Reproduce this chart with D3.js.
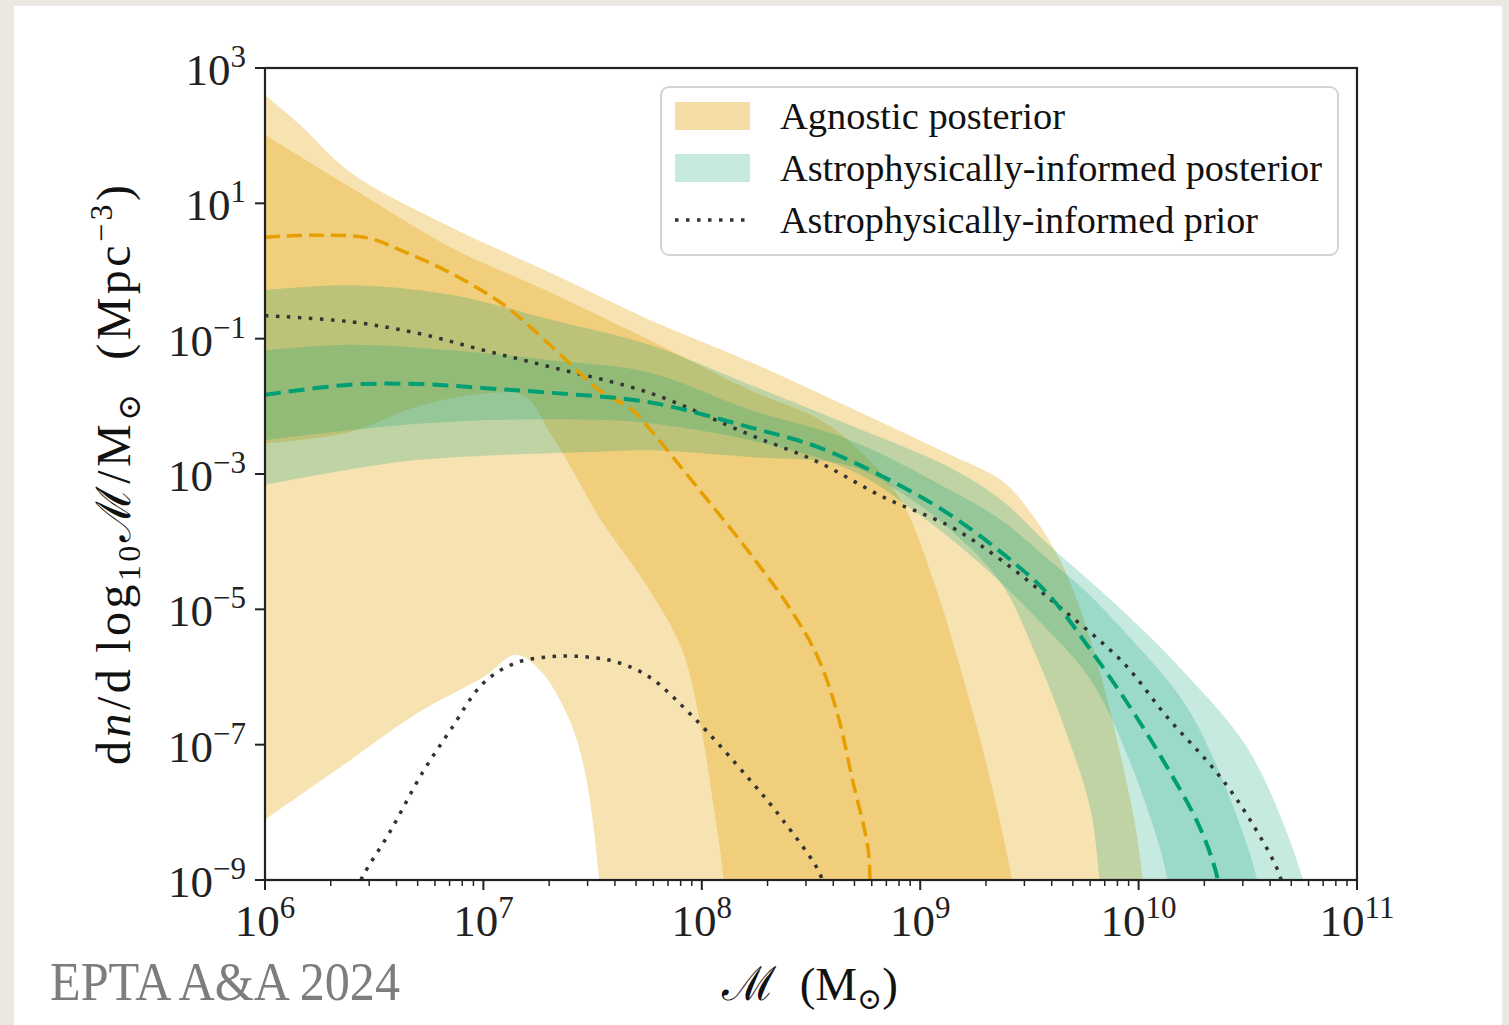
<!DOCTYPE html>
<html><head><meta charset="utf-8">
<script src="https://cdn.jsdelivr.net/npm/d3@7/dist/d3.min.js"></script>
<style>
html,body{margin:0;padding:0;background:#ebe8e2;}
svg{display:block;}
</style></head>
<body>
<svg id="chart" width="1509" height="1025"></svg>
<script>
// ---- data: [log10 mass (M_sun), log10 density (Mpc^-3)] ----
const massTickExponents = [6, 7, 8, 9, 10, 11];
const densityTickExponents = [3, 1, -1, -3, -5, -7, -9];
const legendLabels = ["Agnostic posterior", "Astrophysically-informed posterior", "Astrophysically-informed prior"];

const agnosticOuterUpper = [[6.00,2.60],[6.16,2.16],[6.39,1.46],[6.85,0.65],[7.31,-0.03],[7.76,-0.72],[8.22,-1.34],[8.68,-2.02],[9.14,-2.72],[9.37,-3.09],[9.48,-3.46],[9.64,-4.27],[9.78,-5.45],[9.89,-6.78],[9.98,-8.11],[10.02,-9.00],[10.03,-9.30]];
const agnosticOuterLower = [[6.00,-8.11],[6.39,-7.23],[6.70,-6.53],[7.00,-6.00],[7.15,-5.67],[7.27,-5.94],[7.40,-6.68],[7.46,-7.33],[7.50,-8.11],[7.53,-9.00],[7.54,-9.30]];
const agnosticInnerUpper = [[6.00,2.01],[6.39,1.24],[6.85,0.35],[7.31,-0.32],[7.76,-1.02],[8.22,-1.76],[8.54,-2.20],[8.72,-2.65],[8.91,-3.38],[9.06,-4.57],[9.20,-6.05],[9.31,-7.37],[9.42,-9.00],[9.43,-9.30]];
const agnosticInnerLower = [[6.00,-2.55],[6.39,-2.38],[6.70,-2.00],[6.98,-1.82],[7.19,-1.85],[7.31,-2.42],[7.42,-3.01],[7.53,-3.64],[7.76,-4.71],[7.91,-5.60],[7.99,-6.64],[8.05,-7.82],[8.10,-9.00],[8.10,-9.30]];
const agnosticMedian = [[6.00,0.50],[6.24,0.53],[6.47,0.49],[6.62,0.31],[6.85,-0.03],[7.08,-0.47],[7.23,-0.87],[7.38,-1.32],[7.53,-1.76],[7.68,-2.05],[7.76,-2.33],[7.99,-3.24],[8.22,-4.17],[8.40,-4.97],[8.53,-5.70],[8.62,-6.53],[8.69,-7.52],[8.76,-8.51],[8.77,-9.00],[8.77,-9.30]];

const astroOuterUpper = [[6.00,-0.28],[6.39,-0.21],[6.85,-0.35],[7.31,-0.72],[7.76,-1.09],[8.22,-1.68],[8.68,-2.28],[9.14,-2.91],[9.37,-3.38],[9.59,-4.05],[9.90,-4.94],[10.20,-5.90],[10.51,-7.11],[10.75,-8.96],[10.77,-9.30]];
const astroOuterLower = [[6.00,-3.16],[6.62,-2.82],[7.08,-2.72],[7.53,-2.67],[7.76,-2.65],[8.22,-2.75],[8.68,-2.88],[8.91,-3.27],[9.14,-3.83],[9.37,-4.61],[9.52,-5.60],[9.67,-6.83],[9.78,-7.96],[9.82,-8.96],[9.83,-9.30]];
const astroInnerUpper = [[6.00,-1.17],[6.39,-1.09],[6.85,-1.17],[7.31,-1.32],[7.76,-1.50],[8.22,-2.05],[8.68,-2.50],[9.14,-3.24],[9.37,-3.68],[9.59,-4.27],[9.75,-4.71],[9.97,-5.45],[10.20,-6.34],[10.36,-7.33],[10.54,-8.96],[10.55,-9.30]];
const astroInnerLower = [[6.00,-2.50],[6.62,-2.28],[7.08,-2.20],[7.53,-2.20],[7.76,-2.25],[8.22,-2.50],[8.68,-2.94],[9.00,-3.61],[9.29,-4.37],[9.55,-5.19],[9.78,-6.04],[9.97,-7.33],[10.13,-8.96],[10.13,-9.30]];
const astroMedian = [[6.00,-1.83],[6.39,-1.68],[6.70,-1.67],[7.00,-1.73],[7.31,-1.80],[7.76,-1.94],[8.22,-2.31],[8.53,-2.60],[8.83,-3.04],[9.14,-3.61],[9.44,-4.34],[9.59,-4.79],[9.78,-5.60],[9.97,-6.49],[10.13,-7.33],[10.28,-8.22],[10.36,-8.96],[10.37,-9.30]];

const priorUpper = [[6.00,-0.66],[6.39,-0.75],[6.70,-0.92],[7.00,-1.17],[7.31,-1.42],[7.76,-1.80],[8.22,-2.42],[8.53,-2.82],[8.83,-3.34],[9.14,-3.78],[9.37,-4.27],[9.64,-4.97],[9.93,-5.79],[10.13,-6.59],[10.36,-7.42],[10.51,-8.11],[10.65,-8.97],[10.66,-9.30]];
const priorLower = [[6.42,-9.15],[6.45,-8.93],[6.57,-8.30],[6.72,-7.42],[6.85,-6.78],[7.00,-6.09],[7.15,-5.79],[7.31,-5.70],[7.46,-5.70],[7.61,-5.78],[7.76,-6.00],[7.96,-6.59],[8.22,-7.52],[8.37,-8.11],[8.54,-8.90],[8.56,-9.15]];

// ---- styles ----
const orange = "#E69F00", teal = "#009E73";
const svg = d3.select("#chart");
const L = 265, R = 1357, T = 68, B = 880;
const x = d3.scaleLog().domain([1e6, 1e11]).range([L, R]);
const y = d3.scaleLog().domain([1e-9, 1e3]).range([B, T]);
const serif = "'Liberation Serif','DejaVu Serif',serif";

// card background
svg.append("rect").attr("x", 14).attr("y", 6).attr("width", 1488).attr("height", 1040).attr("fill", "#ffffff");

const defs = svg.append("defs");
defs.append("clipPath").attr("id", "plotclip").append("rect")
  .attr("x", L).attr("y", T).attr("width", R - L).attr("height", B - T);

const line = d3.line().x(d => x(Math.pow(10, d[0]))).y(d => y(Math.pow(10, d[1])))
  .curve(d3.curveCatmullRom.alpha(0.5));
function band(upper, lower) {
  const a = line(upper);
  const b = line(lower.slice().reverse());
  return a + "L" + b.slice(1) + "Z";
}

const plot = svg.append("g").attr("clip-path", "url(#plotclip)");
plot.append("path").attr("d", band(agnosticOuterUpper, agnosticOuterLower)).attr("fill", orange).attr("fill-opacity", 0.3);
plot.append("path").attr("d", band(agnosticInnerUpper, agnosticInnerLower)).attr("fill", orange).attr("fill-opacity", 0.3);
plot.append("path").attr("d", band(astroOuterUpper, astroOuterLower)).attr("fill", teal).attr("fill-opacity", 0.22);
plot.append("path").attr("d", band(astroInnerUpper, astroInnerLower)).attr("fill", teal).attr("fill-opacity", 0.22);

plot.append("path").attr("d", line(priorUpper)).attr("fill", "none").attr("stroke", "#333")
  .attr("stroke-width", 3.5).attr("stroke-dasharray", "3.5 7.5");
plot.append("path").attr("d", line(priorLower)).attr("fill", "none").attr("stroke", "#333")
  .attr("stroke-width", 3.5).attr("stroke-dasharray", "3.5 7.5");
plot.append("path").attr("d", line(agnosticMedian)).attr("fill", "none").attr("stroke", orange)
  .attr("stroke-width", 3.5).attr("stroke-dasharray", "15 7");
plot.append("path").attr("d", line(astroMedian)).attr("fill", "none").attr("stroke", teal)
  .attr("stroke-width", 4).attr("stroke-dasharray", "16 8");

// ---- axes ----
const ax = svg.append("g");
const xTicks = massTickExponents.map(e => Math.pow(10, e));
const xMinor = [];
for (let e = 6; e < 11; e++) for (let k = 2; k <= 9; k++) xMinor.push(k * Math.pow(10, e));
ax.selectAll(".xminor").data(xMinor).join("line")
  .attr("x1", d => x(d)).attr("x2", d => x(d)).attr("y1", B).attr("y2", B + 6)
  .attr("stroke", "#222").attr("stroke-width", 1.5);
ax.selectAll(".xmajor").data(xTicks).join("line")
  .attr("x1", d => x(d)).attr("x2", d => x(d)).attr("y1", B).attr("y2", B + 10)
  .attr("stroke", "#222").attr("stroke-width", 2);
const yTicks = densityTickExponents.map(e => Math.pow(10, e));
ax.selectAll(".ymajor").data(yTicks).join("line")
  .attr("x1", L - 10).attr("x2", L).attr("y1", d => y(d)).attr("y2", d => y(d))
  .attr("stroke", "#222").attr("stroke-width", 2);
svg.append("rect").attr("x", L).attr("y", T).attr("width", R - L).attr("height", B - T)
  .attr("fill", "none").attr("stroke", "#222").attr("stroke-width", 2.2);

function fmtExp(e) { return e < 0 ? "\u2212" + Math.abs(e) : String(e); }

massTickExponents.forEach(e => {
  const t = svg.append("text").attr("x", x(Math.pow(10, e))).attr("y", 936)
    .attr("text-anchor", "middle").attr("font-family", serif).attr("font-size", 45).attr("fill", "#222");
  t.append("tspan").text("10");
  t.append("tspan").attr("dy", -18).attr("font-size", 31).text(fmtExp(e));
});
densityTickExponents.forEach(e => {
  const t = svg.append("text").attr("x", 246).attr("y", y(Math.pow(10, e)) + 17)
    .attr("text-anchor", "end").attr("font-family", serif).attr("font-size", 45).attr("fill", "#222");
  t.append("tspan").text("10");
  t.append("tspan").attr("dy", -18).attr("font-size", 31).text(fmtExp(e));
});

function rich(t, parts) {
  let cur = 0;
  parts.forEach(p => {
    const s = t.append("tspan").text(p.t);
    const target = p.dy || 0;
    if (target !== cur) { s.attr("dy", target - cur); cur = target; }
    if (p.size) s.attr("font-size", p.size);
    if (p.italic) s.attr("font-style", "italic");
  });
}
const xl = svg.append("text").attr("x", 810).attr("y", 1000).attr("text-anchor", "middle")
  .attr("font-family", serif).attr("font-size", 47).attr("fill", "#111");
rich(xl, [{t: "\u2133"}, {t: "\u00a0\u00a0(M"}, {t: "\u2299", dy: 9, size: 30}, {t: ")", dy: 0}]);

const yl = svg.append("text").attr("transform", "translate(130,475) rotate(-90)").attr("text-anchor", "middle")
  .attr("font-family", serif).attr("font-size", 48).attr("fill", "#111")
  .attr("textLength", 580).attr("lengthAdjust", "spacing");
rich(yl, [{t: "d"}, {t: "n", italic: true}, {t: "/d\u2009log"}, {t: "10", dy: 10, size: 32}, {t: "\u2133/M", dy: 0},
  {t: "\u2299", dy: 10, size: 32}, {t: "\u00a0\u00a0(Mpc", dy: 0}, {t: "\u22123", dy: -18, size: 32}, {t: ")", dy: 0}]);

// legend
const lg = svg.append("g");
lg.append("rect").attr("x", 661).attr("y", 87).attr("width", 677).attr("height", 168).attr("rx", 8)
  .attr("fill", "#fff").attr("fill-opacity", 0.85).attr("stroke", "#d4d4d4").attr("stroke-width", 2);
lg.append("rect").attr("x", 675).attr("y", 102).attr("width", 75).attr("height", 28).attr("fill", orange).attr("fill-opacity", 0.35);
lg.append("rect").attr("x", 675).attr("y", 154).attr("width", 75).attr("height", 28).attr("fill", teal).attr("fill-opacity", 0.22);
lg.append("line").attr("x1", 675).attr("x2", 752).attr("y1", 220).attr("y2", 220)
  .attr("stroke", "#333").attr("stroke-width", 3.5).attr("stroke-dasharray", "3.5 7.5");
const legendWidths = [285, 542, 478];
legendLabels.forEach((s, i) => {
  lg.append("text").attr("x", 780).attr("y", 116 + 52 * i).attr("dy", "0.35em")
    .attr("font-family", serif).attr("font-size", 38).attr("fill", "#111")
    .attr("textLength", legendWidths[i]).attr("lengthAdjust", "spacingAndGlyphs").text(s);
});

svg.append("text").attr("x", 50).attr("y", 1000).attr("font-family", serif).attr("font-size", 54)
  .attr("fill", "#7d7d7d").attr("textLength", 350).attr("lengthAdjust", "spacingAndGlyphs").text("EPTA A&A 2024");
</script>
</body></html>
